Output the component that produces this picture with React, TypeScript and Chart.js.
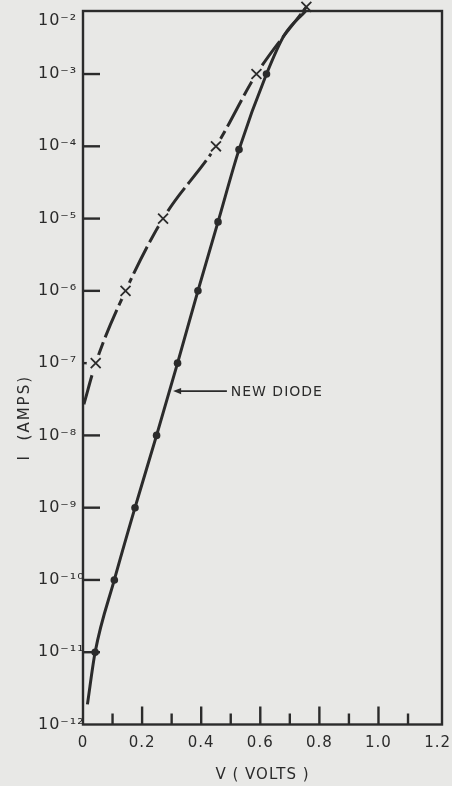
import React, { useEffect, useRef } from 'react';
import { Chart, registerables } from 'chart.js';

Chart.register(...registerables);

// ---- data ----
// new diode (solid line, filled dots)
const newDiodeV = [0.015, 0.041, 0.106, 0.176, 0.249, 0.32, 0.389, 0.457, 0.528, 0.621, 0.682, 0.753];
const newDiodeI = [1.9e-12, 1e-11, 1e-10, 1e-9, 1e-8, 1e-7, 1e-6, 9e-6, 9e-5, 1e-3, 3.5e-3, 7.4e-3];
const newDiodeMarked = [false, true, true, true, true, true, true, true, true, true, false, false];

// old diode (dashed line, X marks)
const oldDiodeV = [0.003, 0.043, 0.144, 0.271, 0.45, 0.587, 0.756];
const oldDiodeI = [2.7e-8, 1e-7, 1e-6, 1e-5, 1e-4, 1e-3, 8.5e-3];
const oldDiodeMarked = [false, true, true, true, true, true, true];

// axes
const xTickValues = [0, 0.1, 0.2, 0.3, 0.4, 0.5, 0.6, 0.7, 0.8, 0.9, 1.0, 1.1, 1.2];
const xTickLabels = ['0', '', '0.2', '', '0.4', '', '0.6', '', '0.8', '', '1.0', '', '1.2'];
const yTickValues = [1e-12, 1e-11, 1e-10, 1e-9, 1e-8, 1e-7, 1e-6, 1e-5, 1e-4, 1e-3, 7.45e-3];
const yTickLabels: (string | string[])[] = ['10⁻¹²', '10⁻¹¹', '10⁻¹⁰', '10⁻⁹', '10⁻⁸', '10⁻⁷', '10⁻⁶', '10⁻⁵', '10⁻⁴', '10⁻³', ['', '10⁻²']];
const xMin = 0;
const xMax = 1.215;
const yMin = 1e-12;
const yMax = 7.45e-3;

const xTitle = 'V ( VOLTS )';
const yTitle = 'I  (AMPS)';

// annotation
const annotationText = 'NEW DIODE';
const annotationTipV = 0.305;
const annotationTailV = 0.487;
const annotationTextV = 0.5;
const annotationI = 4.1e-8;

const INK = '#2b2b2b';
const BG = '#e8e8e6';
const FONT = '"DejaVu Sans", "Noto Sans", sans-serif';

const draftingPlugin = {
  id: 'drafting',
  beforeDraw(chart: any) {
    (chart.ctx as any).letterSpacing = '1px';
  },
  beforeDatasetsDraw(chart: any) {
    const { ctx, chartArea: a, scales } = chart;
    const xs = scales.x;
    const ys = scales.y;
    ctx.save();
    ctx.strokeStyle = INK;
    ctx.lineWidth = 2.4;
    ctx.strokeRect(a.left, a.top, a.right - a.left, a.bottom - a.top);
    xs.ticks.forEach((t: any, i: number) => {
      if (i === 0 || i === xs.ticks.length - 1) return;
      const px = xs.getPixelForValue(t.value);
      const len = i % 2 === 0 ? 18 : 11;
      ctx.beginPath();
      ctx.moveTo(px, a.bottom);
      ctx.lineTo(px, a.bottom - len);
      ctx.stroke();
    });
    ys.ticks.forEach((t: any, i: number) => {
      if (i === 0 || i === ys.ticks.length - 1) return;
      const py = ys.getPixelForValue(t.value);
      ctx.beginPath();
      ctx.moveTo(a.left, py);
      ctx.lineTo(a.left + 17, py);
      ctx.stroke();
    });
    ctx.restore();
  },
  afterDatasetsDraw(chart: any) {
    const { ctx, chartArea: a, scales } = chart;
    const xs = scales.x;
    const ys = scales.y;
    const tipX = xs.getPixelForValue(annotationTipV);
    const tailX = xs.getPixelForValue(annotationTailV);
    const textX = xs.getPixelForValue(annotationTextV);
    const py = ys.getPixelForValue(annotationI);
    ctx.save();
    ctx.strokeStyle = INK;
    ctx.fillStyle = INK;
    ctx.lineWidth = 1.6;
    ctx.beginPath();
    ctx.moveTo(tipX + 5, py);
    ctx.lineTo(tailX, py);
    ctx.stroke();
    ctx.beginPath();
    ctx.moveTo(tipX, py);
    ctx.lineTo(tipX + 8, py - 3.2);
    ctx.lineTo(tipX + 8, py + 3.2);
    ctx.closePath();
    ctx.fill();
    (ctx as any).letterSpacing = '1px';
    ctx.font = `14px ${FONT}`;
    ctx.textAlign = 'left';
    ctx.textBaseline = 'middle';
    ctx.fillText(annotationText, textX, py + 1);
    ctx.restore();

    ctx.save();
    ctx.fillStyle = INK;
    (ctx as any).letterSpacing = '2px';
    ctx.font = `15px ${FONT}`;
    ctx.translate(25, a.top + 0.57 * (a.bottom - a.top));
    ctx.rotate(-Math.PI / 2);
    ctx.textAlign = 'center';
    ctx.textBaseline = 'middle';
    ctx.fillText(yTitle, 0, 0);
    ctx.restore();
  },
};

export default function App() {
  const canvasRef = useRef<HTMLCanvasElement | null>(null);

  useEffect(() => {
    if (!canvasRef.current) return;
    const newPts = newDiodeV.map((v, i) => ({ x: v, y: newDiodeI[i] }));
    const oldPts = oldDiodeV.map((v, i) => ({ x: v, y: oldDiodeI[i] }));
    const lastOld = oldPts.length - 1;

    const chart = new Chart(canvasRef.current, {
      type: 'line',
      data: {
        datasets: [
          {
            label: 'New diode',
            data: newPts,
            borderColor: INK,
            borderWidth: 3,
            cubicInterpolationMode: 'monotone',
            pointRadius: (c: any) => (newDiodeMarked[c.dataIndex] ? 3.8 : 0),
            pointBackgroundColor: INK,
            pointBorderWidth: 0,
            clip: false,
            order: 1,
          },
          {
            label: 'Old diode marks',
            data: oldPts,
            showLine: false,
            pointStyle: 'crossRot',
            pointRadius: (c: any) => (oldDiodeMarked[c.dataIndex] ? 7 : 0),
            pointBorderColor: INK,
            pointBorderWidth: 1.8,
            clip: false,
            order: 2,
          },
          {
            label: 'Old diode mark gaps',
            data: oldPts,
            showLine: false,
            pointStyle: 'circle',
            pointRadius: (c: any) => (oldDiodeMarked[c.dataIndex] && c.dataIndex !== lastOld ? 9 : 0),
            pointBackgroundColor: BG,
            pointBorderWidth: 0,
            clip: false,
            order: 3,
          },
          {
            label: 'Old diode',
            data: oldPts,
            borderColor: INK,
            borderWidth: 3,
            borderDash: [30, 5],
            cubicInterpolationMode: 'monotone',
            pointRadius: 0,
            clip: false,
            order: 4,
          },
        ] as any,
      },
      options: {
        animation: false,
        responsive: true,
        maintainAspectRatio: false,
        events: [],
        layout: { padding: { left: 38, right: 10, top: 11, bottom: 0 } },
        plugins: { legend: { display: false }, tooltip: { enabled: false } },
        scales: {
          x: {
            type: 'linear',
            min: xMin,
            max: xMax,
            grid: { display: false, drawTicks: false },
            border: { display: false },
            afterBuildTicks: (s: any) => {
              s.ticks = xTickValues.map((v) => ({ value: v }));
            },
            afterFit: (s: any) => {
              s.height = 61.5;
              s.paddingLeft = 0;
              s.paddingRight = 0;
            },
            ticks: {
              autoSkip: false,
              maxRotation: 0,
              padding: 10,
              color: INK,
              font: { family: FONT, size: 15 },
              callback: (_v: any, i: number) => xTickLabels[i],
            },
            title: {
              display: true,
              text: xTitle,
              color: INK,
              font: { family: FONT, size: 15 },
              padding: { top: 0, bottom: 2 },
            },
          },
          y: {
            type: 'logarithmic',
            min: yMin,
            max: yMax,
            grid: { display: false, drawTicks: false },
            border: { display: false },
            afterBuildTicks: (s: any) => {
              s.ticks = yTickValues.map((v) => ({ value: v }));
            },
            afterFit: (s: any) => {
              s.width = 45;
              s.paddingTop = 0;
              s.paddingBottom = 0;
            },
            ticks: {
              autoSkip: false,
              crossAlign: 'far',
              color: INK,
              font: { family: FONT, size: 16 },
              callback: (_v: any, i: number) => yTickLabels[i],
            },
          },
        },
      } as any,
      plugins: [draftingPlugin],
    });
    return () => chart.destroy();
  }, []);

  return (
    <div style={{ position: 'fixed', left: 0, top: 0, width: 452, height: 786, background: BG }}>
      <canvas ref={canvasRef} />
    </div>
  );
}
